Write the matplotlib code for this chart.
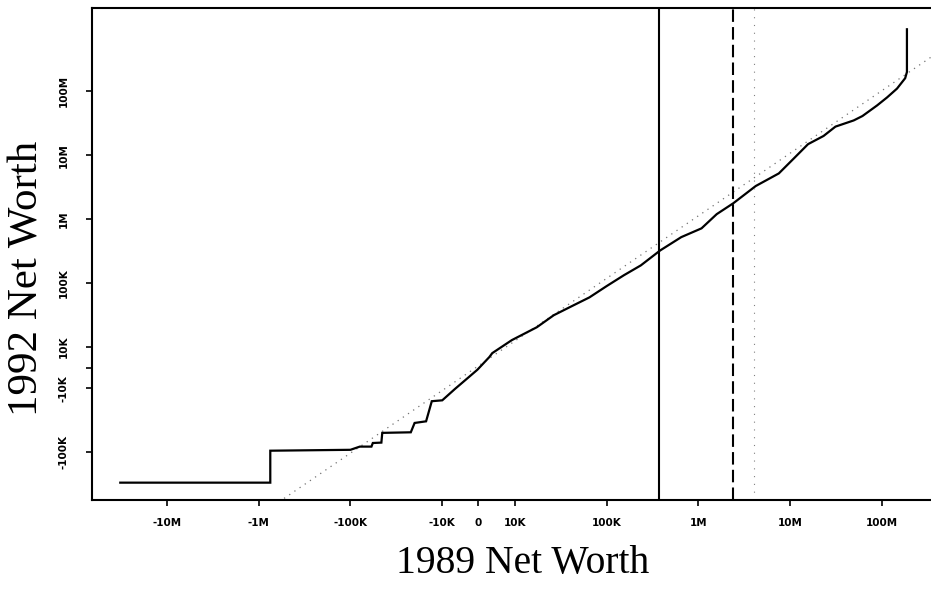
import numpy as np
import matplotlib
matplotlib.use("Agg")
from matplotlib import pyplot as plt
from matplotlib.ticker import FixedLocator, FixedFormatter, NullLocator

# quantile pairs (1989 vs 1992 net worth, dollars)
nw_1989 = [-32e6, -745e3, -745e3, -100e3, -79e3, -59e3, -57e3, -46e3, -45e3,
           -22e3, -20e3, -15e3, -13e3, -10e3, -6.5e3, -2.6e3, -0.3e3, 3e3,
           3.8e3, 9.2e3, 17.4e3, 26.6e3, 41.7e3, 65e3, 100e3, 154e3, 236e3,
           383e3, 650e3, 1.08e6, 1.58e6, 2.4e6, 4.2e6, 7.5e6, 11e6, 15.6e6,
           23e6, 31e6, 49e6, 61e6, 88e6, 113e6, 145e6, 178e6, 186e6, 186e6]
nw_1992 = [-300e3, -300e3, -95e3, -92e3, -82e3, -82e3, -72e3, -71e3, -50e3,
           -49e3, -35e3, -33e3, -16e3, -15.5e3, -10.3e3, -4.5e3, -1e3, 5.2e3,
           7.1e3, 12.9e3, 20.5e3, 31.6e3, 43.7e3, 60e3, 90e3, 133e3, 190e3,
           325e3, 525e3, 720e3, 1.2e6, 1.78e6, 3.3e6, 5.2e6, 9e6, 14.9e6,
           20e6, 28e6, 35e6, 41e6, 60e6, 80e6, 110e6, 160e6, 200e6, 930e6]

# reference lines
diag = [-600e3, 400e6]
solid_x = 372e3
dashed_x = 2.4e6
dotted_x = 4.0e6

x_ticks = [-10e6, -1e6, -100e3, -10e3, 0, 10e3, 100e3, 1e6, 10e6, 100e6]
x_labels = ['-10M', '-1M', '-100K', '-10K', '0', '10K', '100K', '1M', '10M', '100M']
y_ticks = [-100e3, -10e3, 0, 10e3, 100e3, 1e6, 10e6, 100e6]
y_labels = ['-100K', '-10K', '', '10K', '100K', '1M', '10M', '100M']


fig = plt.figure(figsize=(9.31, 5.89), dpi=100)
ax = fig.add_axes([92 / 931, 89 / 589, 1 - 92 / 931, 492 / 589])

ax.set_xscale('symlog', linthresh=1e4, linscale=0.355)
ax.set_yscale('symlog', linthresh=1e4, linscale=0.288)

ax.plot(diag, diag, color='0.45', lw=0.9, linestyle=(0, (1, 4)))
ax.plot(nw_1989, nw_1992, color='black', lw=1.6, solid_joinstyle='miter')
ax.axvline(solid_x, color='black', lw=1.5)
ax.axvline(dashed_x, color='black', lw=1.5, linestyle=(0, (6, 2.5)))
ax.axvline(dotted_x, color='0.5', lw=0.8, linestyle=(0, (1, 6)))

ax.set_xlim(-65e6, 340e6)
ax.set_ylim(-560e3, 2e9)

ax.xaxis.set_major_locator(FixedLocator(x_ticks))
ax.xaxis.set_major_formatter(FixedFormatter(x_labels))
ax.yaxis.set_major_locator(FixedLocator(y_ticks))
ax.yaxis.set_major_formatter(FixedFormatter(y_labels))
ax.xaxis.set_minor_locator(NullLocator())
ax.yaxis.set_minor_locator(NullLocator())

ax.tick_params(direction='out', length=4, width=1.2, labelsize=7.5)
ax.tick_params(axis='x', pad=9)
ax.tick_params(axis='y', pad=13)
for lab in ax.get_xticklabels():
    lab.set_fontweight('bold')
for lab in ax.get_yticklabels():
    lab.set_fontweight('bold')
    lab.set_rotation(90)
    lab.set_va('center')

for s in ['left', 'bottom', 'top']:
    ax.spines[s].set_linewidth(1.5)
ax.spines['right'].set_visible(False)

fig.text(523 / 931, 1 - 563 / 589, '1989 Net Worth', family='Liberation Serif',
         fontsize=28.5, ha='center', va='center')
fig.text(27 / 931, 1 - 278 / 589, '1992 Net Worth', family='Liberation Serif',
         fontsize=31, ha='center', va='center', rotation=90)

fig.savefig('out.png', dpi=100)
